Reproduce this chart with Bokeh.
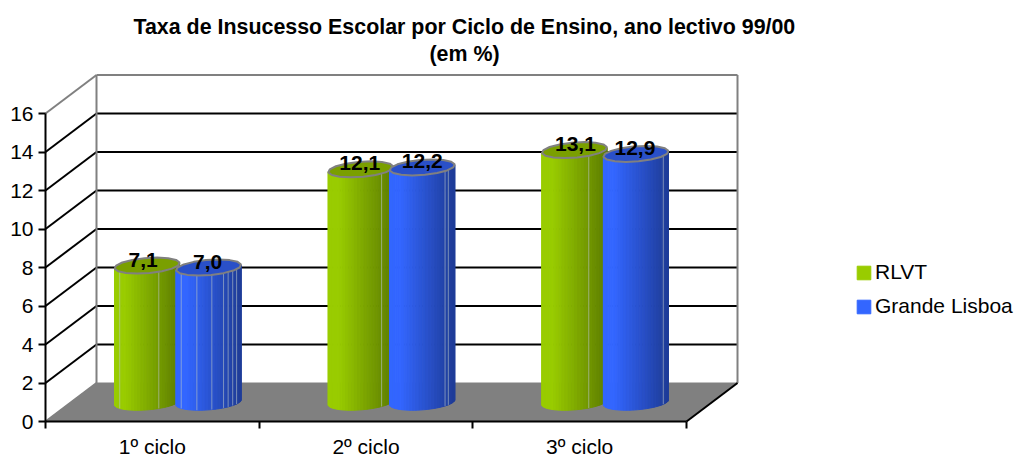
import math
from bokeh.plotting import figure
from bokeh.models import FixedTicker, Legend, LegendItem, Title
from bokeh.embed import file_html
from bokeh.resources import INLINE
from bokeh.core.properties import value

categories = ["1º ciclo", "2º ciclo", "3º ciclo"]
rlvt = [7.1, 12.1, 13.1]
grande_lisboa = [7.0, 12.2, 12.9]
y_ticks = [0, 2, 4, 6, 8, 10, 12, 14, 16]
title_lines = ["Taxa de Insucesso Escolar por Ciclo de Ensino, ano lectivo 99/00", "(em %)"]
series_names = ["RLVT", "Grande Lisboa"]
series_bright = ["#99CC00", "#3366FF"]
series_dark = ["#5F7F00", "#1F3D99"]
series_top = ["#7A9F00", "#2A50C8"]
label_dx = [[-4, -1], [-1, 0], [1, -1]]
facets = [[[0.08, 0.68], [0.08, 0.32, 0.55, 0.73, 0.8, 0.87, 0.93]],
          [[0.82, 0.95], [0.85, 0.9]],
          [[0.72], [0.92]]]

FONT = "Liberation Sans"
W, H = 1017, 459
LEFT, BOTTOM, TOP = 45, 38, 65
PX_X = 213.67
PX_Y = 19.25
DEPTH_X = 51 / PX_X
DEPTH_Y = 2.0
SERIES_OFF = 30.75 / PX_X
RX, DX, DY = 31 / PX_X, 10 / PX_X, 8 / PX_Y
N = len(categories)

p = figure(width=W, height=H, output_backend="svg", toolbar_location=None,
           x_range=(-LEFT / PX_X, (W - LEFT) / PX_X),
           y_range=(-BOTTOM / PX_Y, (H - BOTTOM - TOP) / PX_Y),
           min_border_left=0, min_border_right=0, min_border_bottom=0, min_border_top=TOP,
           margin=(0, 0, 0, 0), background_fill_color="white", border_fill_color="white")
p.outline_line_color = None
p.grid.visible = False

p.add_layout(Title(text=title_lines[1], text_font=FONT, text_font_size="21.4px", text_font_style="bold",
                   text_color="black", align="left", offset=429, standoff=0), "above")
p.add_layout(Title(text=title_lines[0], text_font=FONT, text_font_size="21.4px", text_font_style="bold",
                   text_color="black", align="left", offset=133, standoff=2), "above")

# floor
p.patch([0, DEPTH_X, N + DEPTH_X, N], [0, DEPTH_Y, DEPTH_Y, 0], fill_color="#808080", line_color="#808080")
# back-wall gridlines and side-wall diagonals
levels = [t for t in y_ticks if 0 < t < 16]
p.multi_line([[DEPTH_X, N + DEPTH_X] for _ in levels], [[t + DEPTH_Y, t + DEPTH_Y] for t in levels],
             line_color="black", line_width=2)
p.multi_line([[0, DEPTH_X] for _ in levels], [[t, t + DEPTH_Y] for t in levels], line_color="black", line_width=2)
top = y_ticks[-1]
p.multi_line([[DEPTH_X, DEPTH_X], [DEPTH_X, N + DEPTH_X], [N + DEPTH_X, N + DEPTH_X]],
             [[DEPTH_Y, top + DEPTH_Y], [top + DEPTH_Y, top + DEPTH_Y], [top + DEPTH_Y, DEPTH_Y]],
             line_color="#808080", line_width=2)
p.multi_line([[0, DEPTH_X], [0, DEPTH_X]], [[0, DEPTH_Y], [top, top + DEPTH_Y]], line_color="#808080", line_width=2)
p.line([N, N + DEPTH_X], [0, DEPTH_Y], line_color="black", line_width=2)


def ell(cx, cy, th):
    return cx + RX * math.cos(th) + DX * math.sin(th), cy + DY * math.sin(th)


def mix(a, b, t):
    ca = [int(a[i:i + 2], 16) for i in (1, 3, 5)]
    cb = [int(b[i:i + 2], 16) for i in (1, 3, 5)]
    return "#%02x%02x%02x" % tuple(round(u + (v - u) * t) for u, v in zip(ca, cb))


th0 = math.atan2(DX, RX)
STRIPS = 32
legend_renderers = {}
for c in range(N):
    for s, vals in enumerate([rlvt, grande_lisboa]):
        v = vals[c]
        cx = c + 0.5 + DEPTH_X / 2 + (s * 2 - 1) * SERIES_OFF
        base = DEPTH_Y / 2
        ax, ay, col = [], [], []
        for k in range(STRIPS):
            a = th0 + math.pi + math.pi * k / STRIPS
            b = th0 + math.pi + math.pi * (k + 1) / STRIPS
            x1, y1 = ell(cx, base, a)
            x2, y2 = ell(cx, base, b)
            x3, y3 = ell(cx, base + v, b)
            x4, y4 = ell(cx, base + v, a)
            ax.append([x1, x2, x3, x4])
            ay.append([y1, y2, y3, y4])
            f = (x1 + x2 - 2 * (cx - RX)) / (4 * RX)
            col.append(mix(series_bright[s], series_dark[s], max(0, min(1, (f - 0.15) / 0.85))))
        r = p.patches(ax, ay, fill_color=col, line_color=col, line_width=1)
        legend_renderers.setdefault(s, r)
        # facet seams
        fx, fy = [], []
        for fr in facets[c][s]:
            th = th0 + math.pi + math.pi * (1 - math.acos(2 * fr - 1) / math.pi)
            xa, ya = ell(cx, base, th)
            xb, yb = ell(cx, base + v, th)
            fx.append([xa, xb])
            fy.append([ya, yb])
        p.multi_line(fx, fy, line_color="#B8C4C8", line_alpha=0.6, line_width=1)
        # top ellipse
        ths = [2 * math.pi * k / 16 for k in range(16)]
        pts = [ell(cx, base + v, t) for t in ths]
        p.patch([q[0] for q in pts], [q[1] for q in pts], fill_color=series_top[s],
                line_color="#808080", line_width=2)

# value labels
for c in range(N):
    for s, vals in enumerate([rlvt, grande_lisboa]):
        v = vals[c]
        cx = c + 0.5 + DEPTH_X / 2 + (s * 2 - 1) * SERIES_OFF
        p.text([cx], [v + DEPTH_Y / 2], text=[f"{v:.1f}".replace(".", ",")],
               text_font=value(FONT), text_font_size="21px", text_font_style="bold", text_color="black",
               text_align="center", text_baseline="middle", x_offset=label_dx[c][s], y_offset=-6)

# axes
ya = p.yaxis[0]
ya.fixed_location = 0
ya.ticker = FixedTicker(ticks=y_ticks)
ya.bounds = (0, 16)
ya.major_tick_in = 0
ya.major_tick_out = 7
ya.minor_tick_line_color = None
ya.axis_line_width = 2
ya.major_tick_line_width = 2
ya.axis_line_color = "black"
ya.major_tick_line_color = "black"
ya.major_label_text_font = FONT
ya.major_label_text_font_size = "21px"
ya.major_label_text_color = "black"
ya.major_label_standoff = 5

xa = p.xaxis[0]
xa.fixed_location = 0
centers = [i + 0.5 for i in range(N)]
xa.ticker = FixedTicker(ticks=centers, minor_ticks=[i for i in range(N + 1)])
xa.major_label_overrides = {c: n for c, n in zip(centers, categories)}
xa.bounds = (0, N)
xa.major_tick_line_color = None
xa.major_tick_in = 0
xa.major_tick_out = 0
xa.minor_tick_in = 0
xa.minor_tick_out = 7
xa.minor_tick_line_width = 2
xa.minor_tick_line_color = "black"
xa.axis_line_width = 2
xa.axis_line_color = "black"
xa.major_label_text_font = FONT
xa.major_label_text_font_size = "21px"
xa.major_label_text_color = "black"
xa.major_label_standoff = 6

# legend
items = [LegendItem(label=name, renderers=[legend_renderers[i]]) for i, name in enumerate(series_names)]
lg = Legend(items=items, location=(855, 141), padding=0, margin=0, glyph_width=17, glyph_height=17,
            label_standoff=3, spacing=10, background_fill_alpha=0, border_line_color=None,
            label_text_font=FONT, label_text_font_size="21px", label_text_color="black",
            label_height=21)
p.add_layout(lg)

open("out.html", "w").write(file_html(p, INLINE))
